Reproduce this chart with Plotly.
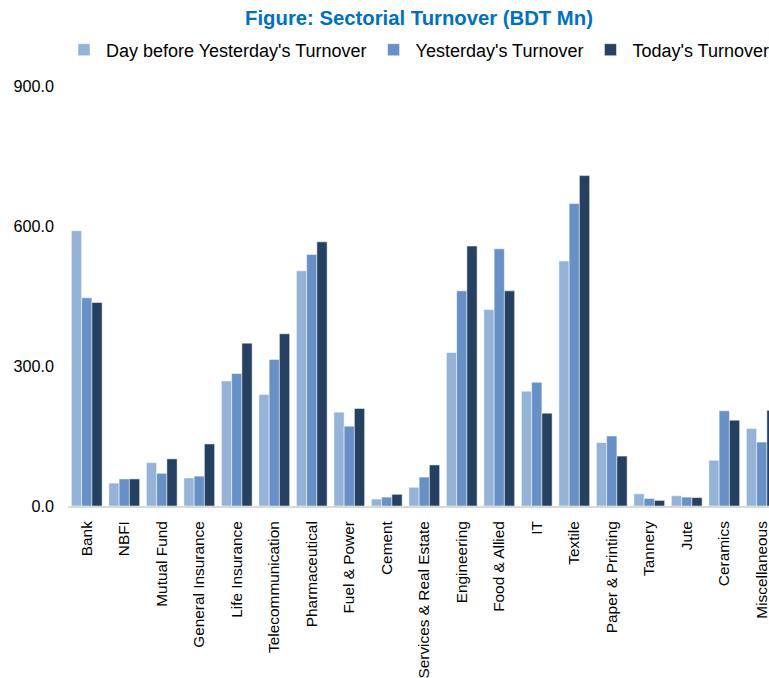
import plotly.graph_objects as go

categories = ["Bank", "NBFI", "Mutual Fund", "General Insurance", "Life Insurance",
              "Telecommunication", "Pharmaceutical", "Fuel & Power", "Cement",
              "Services & Real Estate", "Engineering", "Food & Allied", "IT", "Textile",
              "Paper & Printing", "Tannery", "Jute", "Ceramics", "Miscellaneous"]

day_before = [590, 49, 93, 60, 268, 239, 504, 201, 15, 40, 329, 421, 246, 525, 136, 26, 22, 98, 166]
yesterday = [446, 58, 70, 64, 284, 314, 539, 171, 19, 62, 461, 551, 265, 648, 150, 16, 19, 204, 137]
today = [436, 58, 101, 133, 349, 369, 566, 209, 25, 88, 557, 461, 199, 708, 107, 12, 18, 184, 205]

y_ticks = [0, 300, 600, 900]

series_names = ["Day before Yesterday's Turnover", "Yesterday's Turnover", "Today's Turnover"]
series_values = [day_before, yesterday, today]
colors = ["#95B3D7", "#6690C6", "#254061"]

font_family = "Liberation Sans, Arial, sans-serif"

fig = go.Figure()
for name, vals, col in zip(series_names, series_values, colors):
    fig.add_trace(go.Bar(
        x=categories, y=vals, name=name,
        marker=dict(color=col, line=dict(color="white", width=0.5)),
    ))

W, H = 769, 678
ml, mt = 68, 86
ph = 420
mb = H - mt - ph
mr = 0
pw = W - ml - mr
cat_px = 37.5
span = pw / cat_px

fig.update_layout(
    width=W, height=H,
    margin=dict(l=ml, r=mr, t=mt, b=mb, pad=0, autoexpand=False),
    paper_bgcolor="white", plot_bgcolor="white",
    barmode="group", bargap=0.18, bargroupgap=0,
    font=dict(family=font_family, size=16, color="#000000"),
    title=dict(
        text="<b>Figure: Sectorial Turnover (BDT Mn)</b>",
        font=dict(family=font_family, size=20.3, color="#0070C0"),
        x=419 / W, xanchor="center", xref="container",
        y=1 - 18 / H, yanchor="middle", yref="container",
    ),
    showlegend=True,
    legend=dict(
        orientation="h",
        x=(62 - ml) / pw, xanchor="left",
        y=(mt + ph - 50) / ph, yanchor="middle",
        font=dict(family=font_family, size=18, color="#000000"),
        bgcolor="rgba(0,0,0,0)", borderwidth=0,
        itemwidth=34,
        traceorder="normal",
    ),
    xaxis=dict(
        type="category",
        range=[-0.5, -0.5 + span],
        automargin=False,
        tickangle=-90,
        showgrid=False, zeroline=False,
        showline=True, linecolor="#D9D9D9", linewidth=2,
        ticks="", ticklabelstandoff=7,
        tickfont=dict(family=font_family, size=15.4, color="#000000"),
    ),
    yaxis=dict(
        range=[0, 900],
        automargin=False,
        tickvals=y_ticks,
        tickformat=".1f",
        showgrid=False, zeroline=False, showline=False,
        ticks="", ticklabelstandoff=13,
        tickfont=dict(family=font_family, size=16.2, color="#000000"),
    ),
)

fig.write_html(
    "out.html",
    config={"displayModeBar": False},
    post_script="document.body.style.margin='0';document.body.style.overflow='hidden';",
)
